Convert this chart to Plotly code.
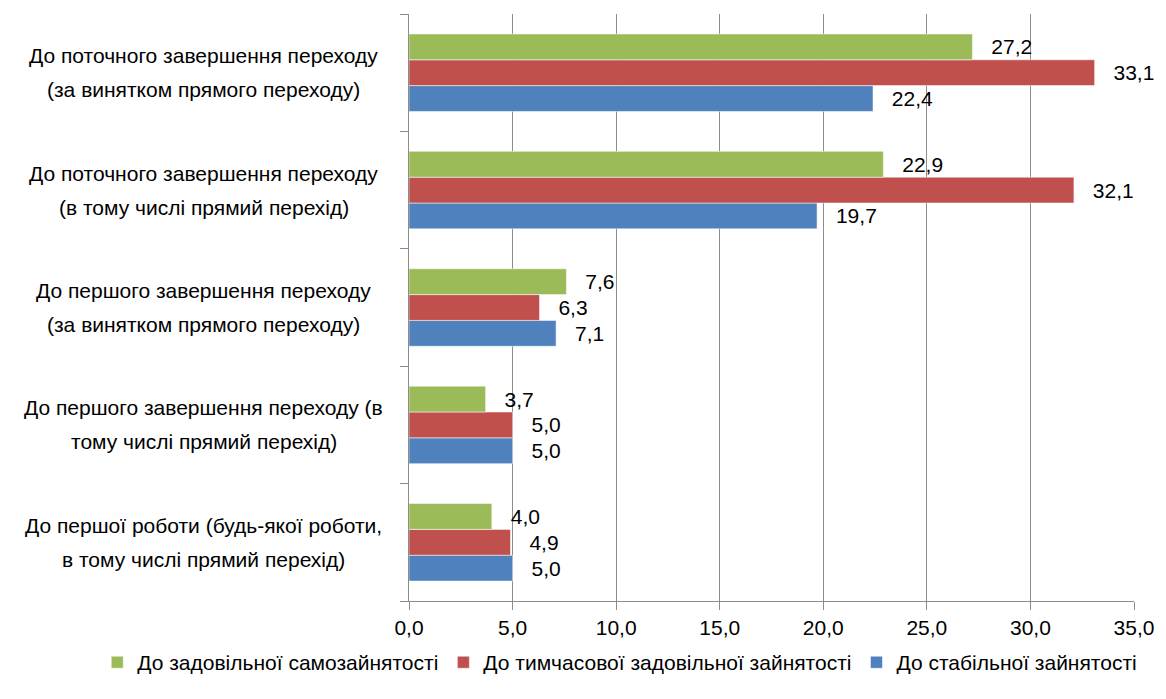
import plotly.graph_objects as go

# categories listed bottom-to-top (plotly draws the first category at the bottom)
categories = [
    "До першої роботи (будь-якої роботи,<br>в тому числі прямий перехід)",
    "До першого завершення переходу (в<br>тому числі прямий перехід)",
    "До першого завершення переходу<br>(за винятком прямого переходу)",
    "До поточного завершення переходу<br>(в тому числі прямий перехід)",
    "До поточного завершення переходу<br>(за винятком прямого переходу)",
]
cat_ids = ["c1", "c2", "c3", "c4", "c5"]

stable = [5.0, 5.0, 7.1, 19.7, 22.4]
temporary = [4.9, 5.0, 6.3, 32.1, 33.1]
self_emp = [4.0, 3.7, 7.6, 22.9, 27.2]

x_ticks = [0, 5, 10, 15, 20, 25, 30, 35]
x_tick_labels = ["0,0", "5,0", "10,0", "15,0", "20,0", "25,0", "30,0", "35,0"]

FONT = "Liberation Sans Narrow, Arial Narrow, Liberation Sans, Arial"
GRID = "#8c8c8c"

series = [
    ("До стабільної зайнятості", stable, "#4F81BD"),
    ("До тимчасової задовільної зайнятості", temporary, "#C0504D"),
    ("До задовільної самозайнятості", self_emp, "#9BBB59"),
]

fig = go.Figure()
for name, vals, color in series:
    fig.add_trace(go.Bar(
        y=cat_ids, x=vals, name=name, orientation="h",
        marker=dict(color=color, line=dict(color="rgba(255,255,255,0.5)", width=1)),
        text=vals, texttemplate="  \u2009%{x:.1f}", textposition="outside",
        textfont=dict(size=21, color="black", family=FONT),
        cliponaxis=False,
    ))

# category labels: each line placed on its own so the line spacing matches
for cid, label in zip(cat_ids, categories):
    lines = label.split("<br>")
    for i, line in enumerate(lines):
        fig.add_annotation(
            x=-0.283, xref="paper", y=cid, yref="y", text=line,
            showarrow=False, xanchor="center", yanchor="middle",
            yshift=17 - 34 * i,
            font=dict(size=21, color="black", family=FONT),
        )

fig.update_layout(
    width=1166, height=699,
    barmode="group", bargap=0.34, bargroupgap=0,
    separators=", ",
    margin=dict(l=409, r=26, t=14, b=98),
    plot_bgcolor="white", paper_bgcolor="white",
    font=dict(family=FONT, size=21, color="black"),
    legend=dict(
        orientation="h", traceorder="reversed",
        xref="paper", x=-0.43, xanchor="left",
        yref="paper", y=-0.07, yanchor="top",
        font=dict(size=21, family=FONT),
        itemwidth=30, tracegroupgap=0,
    ),
)
fig.update_xaxes(
    range=[0, 35], tickvals=x_ticks, ticktext=x_tick_labels,
    showgrid=True, gridcolor=GRID, gridwidth=1,
    showline=True, linecolor=GRID, linewidth=1,
    ticks="outside", ticklen=8, tickcolor=GRID,
    zeroline=False, tickfont=dict(size=21),
)
fig.update_yaxes(
    categoryorder="array", categoryarray=cat_ids,
    showticklabels=False, showgrid=False,
    showline=True, linecolor=GRID, linewidth=1,
    ticks="outside", ticklen=8, tickcolor=GRID, tickson="boundaries",
)

fig.write_html(
    "out.html",
    config={"displayModeBar": False},
    post_script="document.body.style.margin='0';",
)
